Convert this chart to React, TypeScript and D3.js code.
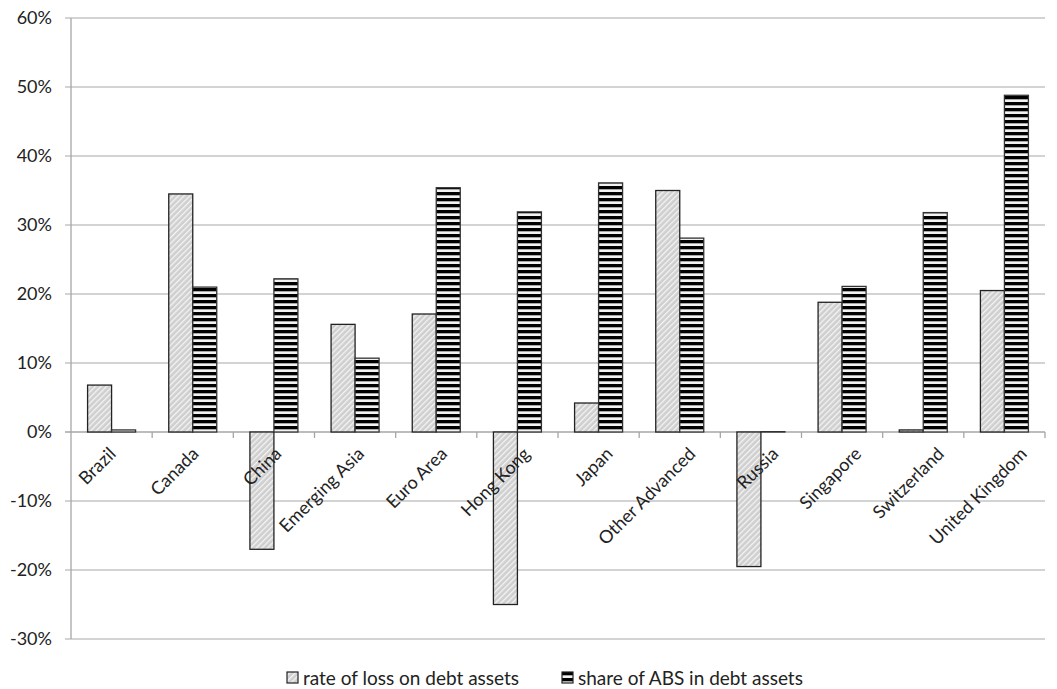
import React from "react";
import * as d3 from "d3";

const categories = ["Brazil", "Canada", "China", "Emerging Asia", "Euro Area", "Hong Kong", "Japan", "Other Advanced", "Russia", "Singapore", "Switzerland", "United Kingdom"];
const lossRate = [6.8, 34.5, -17.0, 15.6, 17.1, -25.0, 4.2, 35.0, -19.5, 18.8, 0.3, 20.5];
const absShare = [0.3, 21.0, 22.2, 10.7, 35.4, 31.9, 36.1, 28.1, 0.05, 21.1, 31.8, 48.8];
const yTicks = [-30, -20, -10, 0, 10, 20, 30, 40, 50, 60];
const seriesNames = ["rate of loss on debt assets", "share of ABS in debt assets"];

const W = 1057, H = 689;
const left = 71, right = 1045, top = 18, bottom = 639;
const font = "Lato, 'Open Sans', sans-serif";

export default function App() {
  const x = d3.scaleBand<string>().domain(categories).range([left, right]).paddingInner(0).paddingOuter(0);
  const labelX = d3.scalePoint<string>().domain(categories).range([117, 1028]);
  const y = d3.scaleLinear().domain([-30, 60]).range([bottom, top]);
  const bw = 24;
  const y0 = y(0);
  return (
    <svg width={W} height={H} style={{ position: "absolute", left: 0, top: 0, background: "#fff" }}>
      <defs>
        <pattern id="diag" patternUnits="userSpaceOnUse" width="4" height="4" patternTransform="rotate(45)">
          <rect width="4" height="4" fill="#cfcfcf" />
          <rect x="0" y="0" width="1.3" height="4" fill="#f4f4f4" />
        </pattern>
        <pattern id="horiz" patternUnits="userSpaceOnUse" width="6" height="6" y={0}>
          <rect width="6" height="6" fill="#f2f2f2" />
          <rect x="0" y="0" width="6" height="3.3" fill="#000" />
        </pattern>
      </defs>
      {yTicks.map(t => (
        <g key={t}>
          <line x1={left - 6} x2={right} y1={y(t)} y2={y(t)} stroke={t === 0 ? "#a6a6a6" : "#c4c4c4"} strokeWidth={1.3} />
          <text x={52} y={y(t)} dy="0.35em" textAnchor="end" fontFamily={font} fontSize={18} fill="#222">{t}%</text>
        </g>
      ))}
      <line x1={left} x2={left} y1={top} y2={bottom} stroke="#a6a6a6" strokeWidth={1.3} />
      {categories.map((c) => (
        <line key={c} x1={(x(c) as number) + x.bandwidth()} x2={(x(c) as number) + x.bandwidth()} y1={y0} y2={y0 + 6} stroke="#a6a6a6" strokeWidth={1.3} />
      ))}
      {categories.map((c, i) => {
        const cx = (x(c) as number) + x.bandwidth() / 2;
        const v1 = lossRate[i], v2 = absShare[i];
        return (
          <g key={c}>
            <rect x={cx - bw} y={Math.min(y(v1), y0)} width={bw} height={Math.abs(y(v1) - y0)} fill="url(#diag)" stroke="#222" strokeWidth={1.3} />
            <rect x={cx} y={Math.min(y(v2), y0)} width={bw} height={Math.abs(y(v2) - y0)} fill="url(#horiz)" stroke="#333" strokeWidth={1.3} />
          </g>
        );
      })}
      {categories.map((c) => (
        <text key={c} transform={`translate(${labelX(c)},${y0 + 23}) rotate(-45)`} textAnchor="end" fontFamily={font} fontSize={18} fill="#222">{c}</text>
      ))}
      <g>
        <rect x={287} y={672} width={11} height={11} fill="url(#diag)" stroke="#222" strokeWidth={1.2} />
        <text x={303} y={678} dy="0.35em" fontFamily={font} fontSize={19} fill="#222">{seriesNames[0]}</text>
        <rect x={562} y={672} width={11} height={11} fill="url(#horiz)" stroke="#222" strokeWidth={1.2} />
        <text x={578} y={678} dy="0.35em" fontFamily={font} fontSize={19} fill="#222">{seriesNames[1]}</text>
      </g>
    </svg>
  );
}
